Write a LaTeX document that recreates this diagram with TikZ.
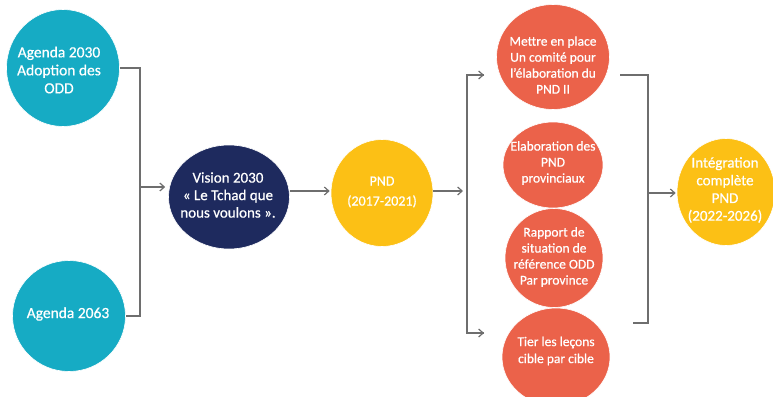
\documentclass[tikz,border=0pt]{standalone}
\usepackage{fontspec}
\setmainfont{Carlito}[FakeBold=0.6]
\usetikzlibrary{arrows.meta,shapes.geometric}
\definecolor{cteal}{HTML}{16ABC4}
\definecolor{cnavy}{HTML}{1E2A5E}
\definecolor{cyell}{HTML}{FCC015}
\definecolor{corange}{HTML}{EB624A}
\definecolor{cline}{HTML}{6E6E6E}
\tikzset{
  bub/.style={ellipse, inner sep=0pt, draw=white, line width=0.6pt},
  txt/.style={inner sep=0pt, text=white, align=center},
  conn/.style={draw=cline, line width=1.3pt},
  arr/.style={conn, -{Straight Barb[length=4.5pt,width=8pt,line width=1.2pt]}},
}
\begin{document}
\begin{tikzpicture}[x=1pt,y=-1pt]
\useasboundingbox (0,0) rectangle (773,396);
% circles
\node[bub, fill=cteal, minimum width=113pt, minimum height=117pt] (a30) at (63,68) {};
\node[bub, fill=cteal, minimum width=113pt, minimum height=111pt] (a63) at (69,316) {};
\node[bub, fill=cnavy, minimum width=121pt, minimum height=104pt] (vis) at (229,197) {};
\node[bub, fill=cyell, minimum width=102pt, minimum height=107pt] (pnd) at (382,193) {};
\node[bub, fill=corange, minimum width=113pt, minimum height=105pt] (m1) at (553,57) {};
\node[bub, fill=corange, minimum width=100pt, minimum height=86pt] (m2) at (553,165) {};
\node[bub, fill=corange, minimum width=98pt, minimum height=99pt] (m3) at (554,258) {};
\node[bub, fill=corange, minimum width=108pt, minimum height=98pt] (m4) at (556,357) {};
\node[bub, fill=cyell, minimum width=98pt, minimum height=107pt] (int) at (726,192) {};
% texts
\node[txt, font=\fontsize{15.5}{18}\selectfont] (t30) at (59,70) {Agenda 2030\\Adoption des\\ODD};
\node[txt, font=\fontsize{15.5}{18}\selectfont] (t63) at (68,314) {Agenda 2063};
\node[txt, font=\fontsize{15}{17.5}\selectfont] (tvis) at (228,195) {Vision 2030\\« Le Tchad que\\nous voulons ».};
\node[txt, font=\fontsize{14}{20}\selectfont] (tpnd) at (382,192) {PND\\(2017-2021)};
\node[txt, font=\fontsize{13.5}{16}\selectfont] (tm1) at (553,65) {Mettre en place\\Un comité pour\\l’élaboration du\\PND II};
\node[txt, font=\fontsize{13.5}{16}\selectfont] (tm2) at (553,163) {Elaboration des\\PND\\provinciaux};
\node[txt, font=\fontsize{13.5}{16}\selectfont] (tm3) at (554,257) {Rapport de\\situation de\\référence ODD\\Par province};
\node[txt, font=\fontsize{13.5}{17}\selectfont] (tm4) at (556,351) {Tier les leçons\\cible par cible};
\node[txt, font=\fontsize{15}{17.7}\selectfont] (tint) at (725,190) {Intégration\\complète\\PND\\(2022-2026)};
% left bracket
\coordinate (lb1) at (140,68);
\coordinate (lb2) at (140,316);
\coordinate (lbm) at (140,187);
\draw[conn] (a30.east) -- (lb1) -- (lb2) -- (a63.east);
\draw[arr] (lbm) -- ([xshift=-3pt]lbm -| vis.west);
\draw[arr] (vis.east |- 0,191) -- ([xshift=-1pt]pnd.west |- 0,191);
% middle bracket
\coordinate (mb) at (467,191);
\coordinate (mb1) at (467,75);
\coordinate (mb2) at (467,333);
\coordinate (mt1) at (484,75);
\coordinate (mt2) at (484,333);
\draw[arr] (pnd.east |- mb) -- ([xshift=-4pt]mb);
\draw[conn] (mt1) -- (mb1) -- (mb2) -- (mt2);
\draw[arr] (mb1) -- (mt1);
\draw[arr] (mb2) -- (mt2);
% right bracket
\coordinate (rs1) at (620,75);
\coordinate (rc1) at (648,75);
\coordinate (rc2) at (648,323);
\coordinate (rs2) at (633,323);
\coordinate (rm) at (648,193);
\draw[conn] (rs1) -- (rc1) -- (rc2) -- (rs2);
\draw[arr] (rm) -- ([xshift=-1pt]rm -| int.west);
\end{tikzpicture}
\end{document}
